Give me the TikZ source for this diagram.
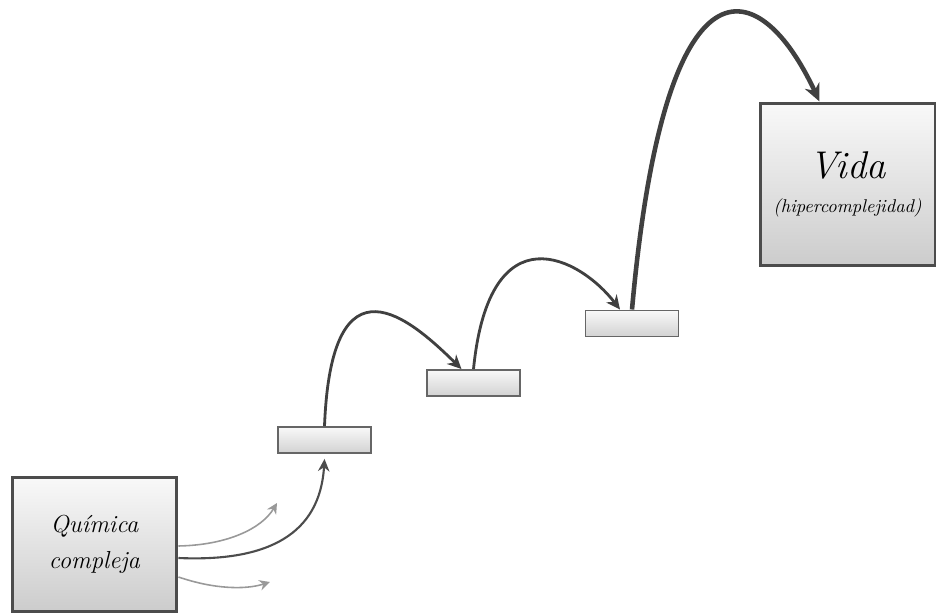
\documentclass[tikz,border=0pt]{standalone}
\usepackage{tikz}
\usetikzlibrary{arrows.meta, calc}
\tikzset{
  big_box/.style={rectangle, draw=black!70, line width=1.7pt, top color=gray!5, bottom color=gray!40, minimum width=3.3cm, minimum height=2.7cm, align=center, font=\itshape},
  step_box/.style={rectangle, draw=black!60, line width=1.1pt, top color=gray!5, bottom color=gray!35, minimum width=1.86cm, minimum height=0.52cm},
  jump_arrow/.style={-{Stealth[length=8pt, width=7.5pt]}, line width=1.6pt, black!75},
  leap_arrow/.style={-{Stealth[length=10pt, width=9pt]}, line width=2.6pt, black!75},
  start_arrow/.style={-{Stealth[length=7pt, width=6.5pt]}, line width=1.2pt, black!70},
  lost_arrow/.style={-{Stealth[length=6pt, width=6pt]}, line width=0.9pt, black!40}
}

\begin{document}
\begin{tikzpicture}[x=0.02cm, y=-0.02cm]
    \useasboundingbox (0,0) rectangle (936,614);

    % 1. Define the boxes
    \node[big_box, font=\itshape\fontsize{14}{20.5}\selectfont] (quimica) at (94.5,544.5) {Química\\compleja};
    \node[big_box, minimum width=3.5cm, minimum height=3.26cm, font=\itshape\fontsize{10.5}{12}\selectfont] (vida) at (847.5,184.5)
        {{\fontsize{22}{26}\selectfont Vida}\\[7pt](hipercomplejidad)};

    % 2. The steps
    \node[step_box] (step1) at (324.5,440) {};
    \node[step_box] (step2) at (473.5,383) {};
    \node[step_box] (step3) at (632,323.5) {};

    % 3. Arrows leaving the first box
    \coordinate (lost_up) at (277,503);
    \coordinate (lost_down) at (270,582);
    \draw[lost_arrow] ($(quimica.east)+(0,1.5)$) .. controls +(50,-1) and +(-15,25) .. (lost_up);
    \draw[lost_arrow] ($(quimica.east)+(0,32.5)$) .. controls +(35,12) and +(-25,8) .. (lost_down);
    \draw[start_arrow] ($(quimica.east)+(0,13.5)$) .. controls +(90,4) and +(-4.5,75) .. ($(step1.south)+(0,5)$);

    % 4. Jumps from step to step
    \draw[jump_arrow] (step1.north) .. controls +(7,-177) and +(-51,-50) .. ($(step2.north)+(-12,0)$);
    \draw[jump_arrow] (step2.north) .. controls +(16,-160) and +(-40,-52) .. ($(step3.north)+(-12,0)$);
    \draw[leap_arrow] (step3.north) .. controls +(33,-368) and +(-59.5,-128) .. ($(vida.north)+(-28,0)$);

\end{tikzpicture}
\end{document}
